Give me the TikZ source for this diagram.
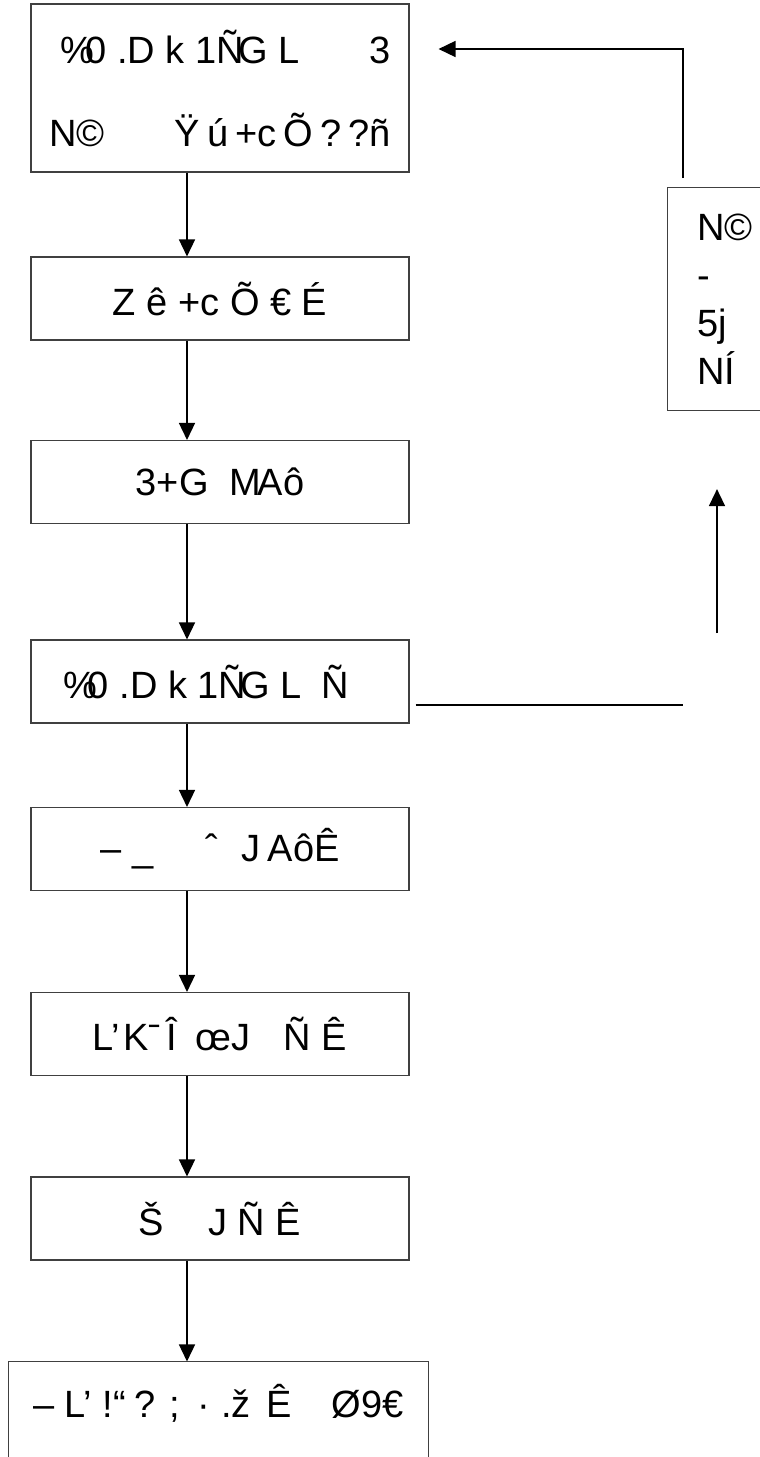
\documentclass[tikz,border=0pt]{standalone}
\usepackage{fontspec}
\setmainfont{Liberation Sans}
\usepackage{tikz}
\usetikzlibrary{positioning,shapes,arrows.meta}
\tikzset{
    block/.style={rectangle, draw=black!75, line width=1.1pt, minimum width=378pt, minimum height=83pt, inner sep=0pt, font=\fontsize{38}{46}\selectfont},
    edge/.style={line width=1.5pt},
    flow/.style={edge, -{Triangle[length=17pt, width=16pt]}}
}

\begin{document}
\begin{tikzpicture}[x=1pt, y=-1pt]
    \path[use as bounding box, clip] (0,0) rectangle (760,1457);

    \node[block, minimum height=168pt, align=right, font=\fontsize{38}{83}\selectfont] (b1) at (220,88)
        {\%\kern-9pt0 .D k 1Ñ\kern-6ptG L\hspace{70pt}3\\N©\hspace{70pt}Ÿ\kern7ptú\kern7pt+c\kern7ptÕ\kern7pt?\kern7pt?ñ};
    \node[block] (b2) at (220,298.5) {Z ê +c Õ € É};
    \node[block] (b3) at (220,482) {3+G\hspace{10pt} M\kern-3ptAô};
    \node[block] (b4) at (220,681.5) {\%\kern-9pt0 .D k 1Ñ\kern-6ptG L\hspace{20pt}Ñ\kern28pt};
    \node[block] (b5) at (220,849) {– \_\hspace{52pt}ˆ\hspace{24pt}J\kern7ptAôÊ};
    \node[block] (b6) at (220,1034) {L’\kern3ptKˉ\kern5ptÎ\hspace{19pt}œJ\hspace{33pt}Ñ Ê};
    \node[block] (b7) at (220,1218.5) {Š\hspace{44pt}J Ñ Ê};
    \node[block, draw=none, minimum width=419pt] (b8) at (218.5,1403.5)
        {– L’ !“\hspace{8pt}? ;\hspace{18pt}· .ž\hspace{16pt}Ê\hspace{40pt}Ø9€};
    \draw[draw=black!75, line width=1.1pt] ([yshift=-40pt]b8.south west) -- (b8.north west)
        -- (b8.north east) -- ([yshift=-40pt]b8.south east);

    \node[block, anchor=north west, minimum width=150pt, minimum height=223pt, inner xsep=30pt,
        text width=90pt, align=left, font=\fontsize{38}{48}\selectfont] (rb) at (667,187)
        {N©\\-\\5j\\NÍ};

    \coordinate (ax) at (187,0);
    \foreach \a/\b in {b1/b2, b2/b3, b3/b4, b4/b5, b5/b6, b6/b7, b7/b8}
        \draw[flow] (\a.south -| ax) -- (\b.north -| ax);

    \coordinate (rx) at (683,0);
    \coordinate (ry) at (0,49);
    \draw[flow, shorten <=9pt, shorten >=29pt] (rb.north -| rx) |- (b1.east |- ry);

    \coordinate (hl) at (683,705);
    \draw[edge, shorten <=6pt] (b4.east |- hl) -- (hl);

    \coordinate (up) at (717,633);
    \draw[flow, shorten >=78pt] (up) -- (rb.south -| up);
\end{tikzpicture}
\end{document}
